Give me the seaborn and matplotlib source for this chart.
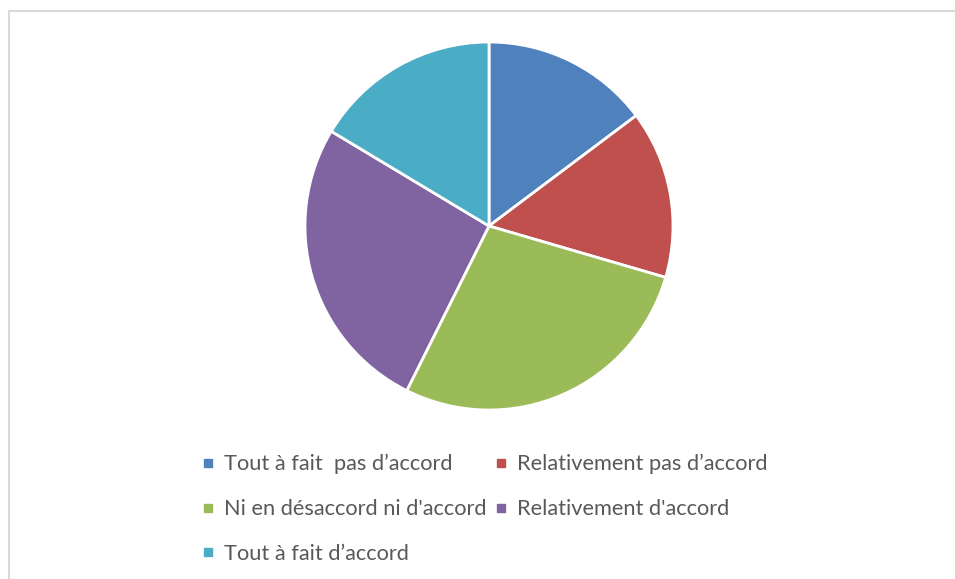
import matplotlib.pyplot as plt
import seaborn as sns
from matplotlib.lines import Line2D

sns.set_style("white")
plt.rcParams['font.family'] = ['Lato', 'DejaVu Sans']

# Data
categories = ['Tout à fait  pas d’accord', 'Relativement pas d’accord',
              "Ni en désaccord ni d'accord", "Relativement d'accord",
              'Tout à fait d’accord']
counts = [9, 9, 17, 16, 10]
colors = ['#4F81BD', '#C0504D', '#9BBB59', '#8064A2', '#4BACC6']

fig = plt.figure(figsize=(9.55, 5.79), dpi=100)

# pie axes: center (489, 226) px, radius 184 px
ax = fig.add_axes([305 / 955, (579 - 410) / 579, 368 / 955, 368 / 579])
ax.pie(counts, colors=sns.color_palette(colors), startangle=90, counterclock=False,
       wedgeprops=dict(edgecolor='white', linewidth=2))
ax.set_xlim(-1.0, 1.0)
ax.set_ylim(-1.0, 1.0)
ax.set_aspect('equal')
ax.axis('off')

# chart border (top and left visible)
fig.add_artist(Line2D([8.5 / 955, 1], [1 - 11 / 579, 1 - 11 / 579], color='#d9d9d9', lw=1.5,
                      transform=fig.transFigure))
fig.add_artist(Line2D([8.5 / 955, 8.5 / 955], [0, 1 - 11 / 579], color='#d9d9d9', lw=1.5,
                      transform=fig.transFigure))

# legend, filled row by row like the original
handles = [Line2D([], [], marker='s', linestyle='none', markersize=6, color=c) for c in colors]
order = [0, 2, 4, 1, 3]
leg = fig.legend([handles[i] for i in order], [categories[i] for i in order],
                 ncol=2, loc='upper left', bbox_to_anchor=(203 / 955, 1 - 454 / 579),
                 frameon=False, fontsize=15.7, handlelength=0.5, handletextpad=0.45,
                 columnspacing=0.45, labelspacing=1.14, borderpad=0, borderaxespad=0)
for t in leg.get_texts():
    t.set_color('#595959')

fig.savefig('out.png', dpi=100)
